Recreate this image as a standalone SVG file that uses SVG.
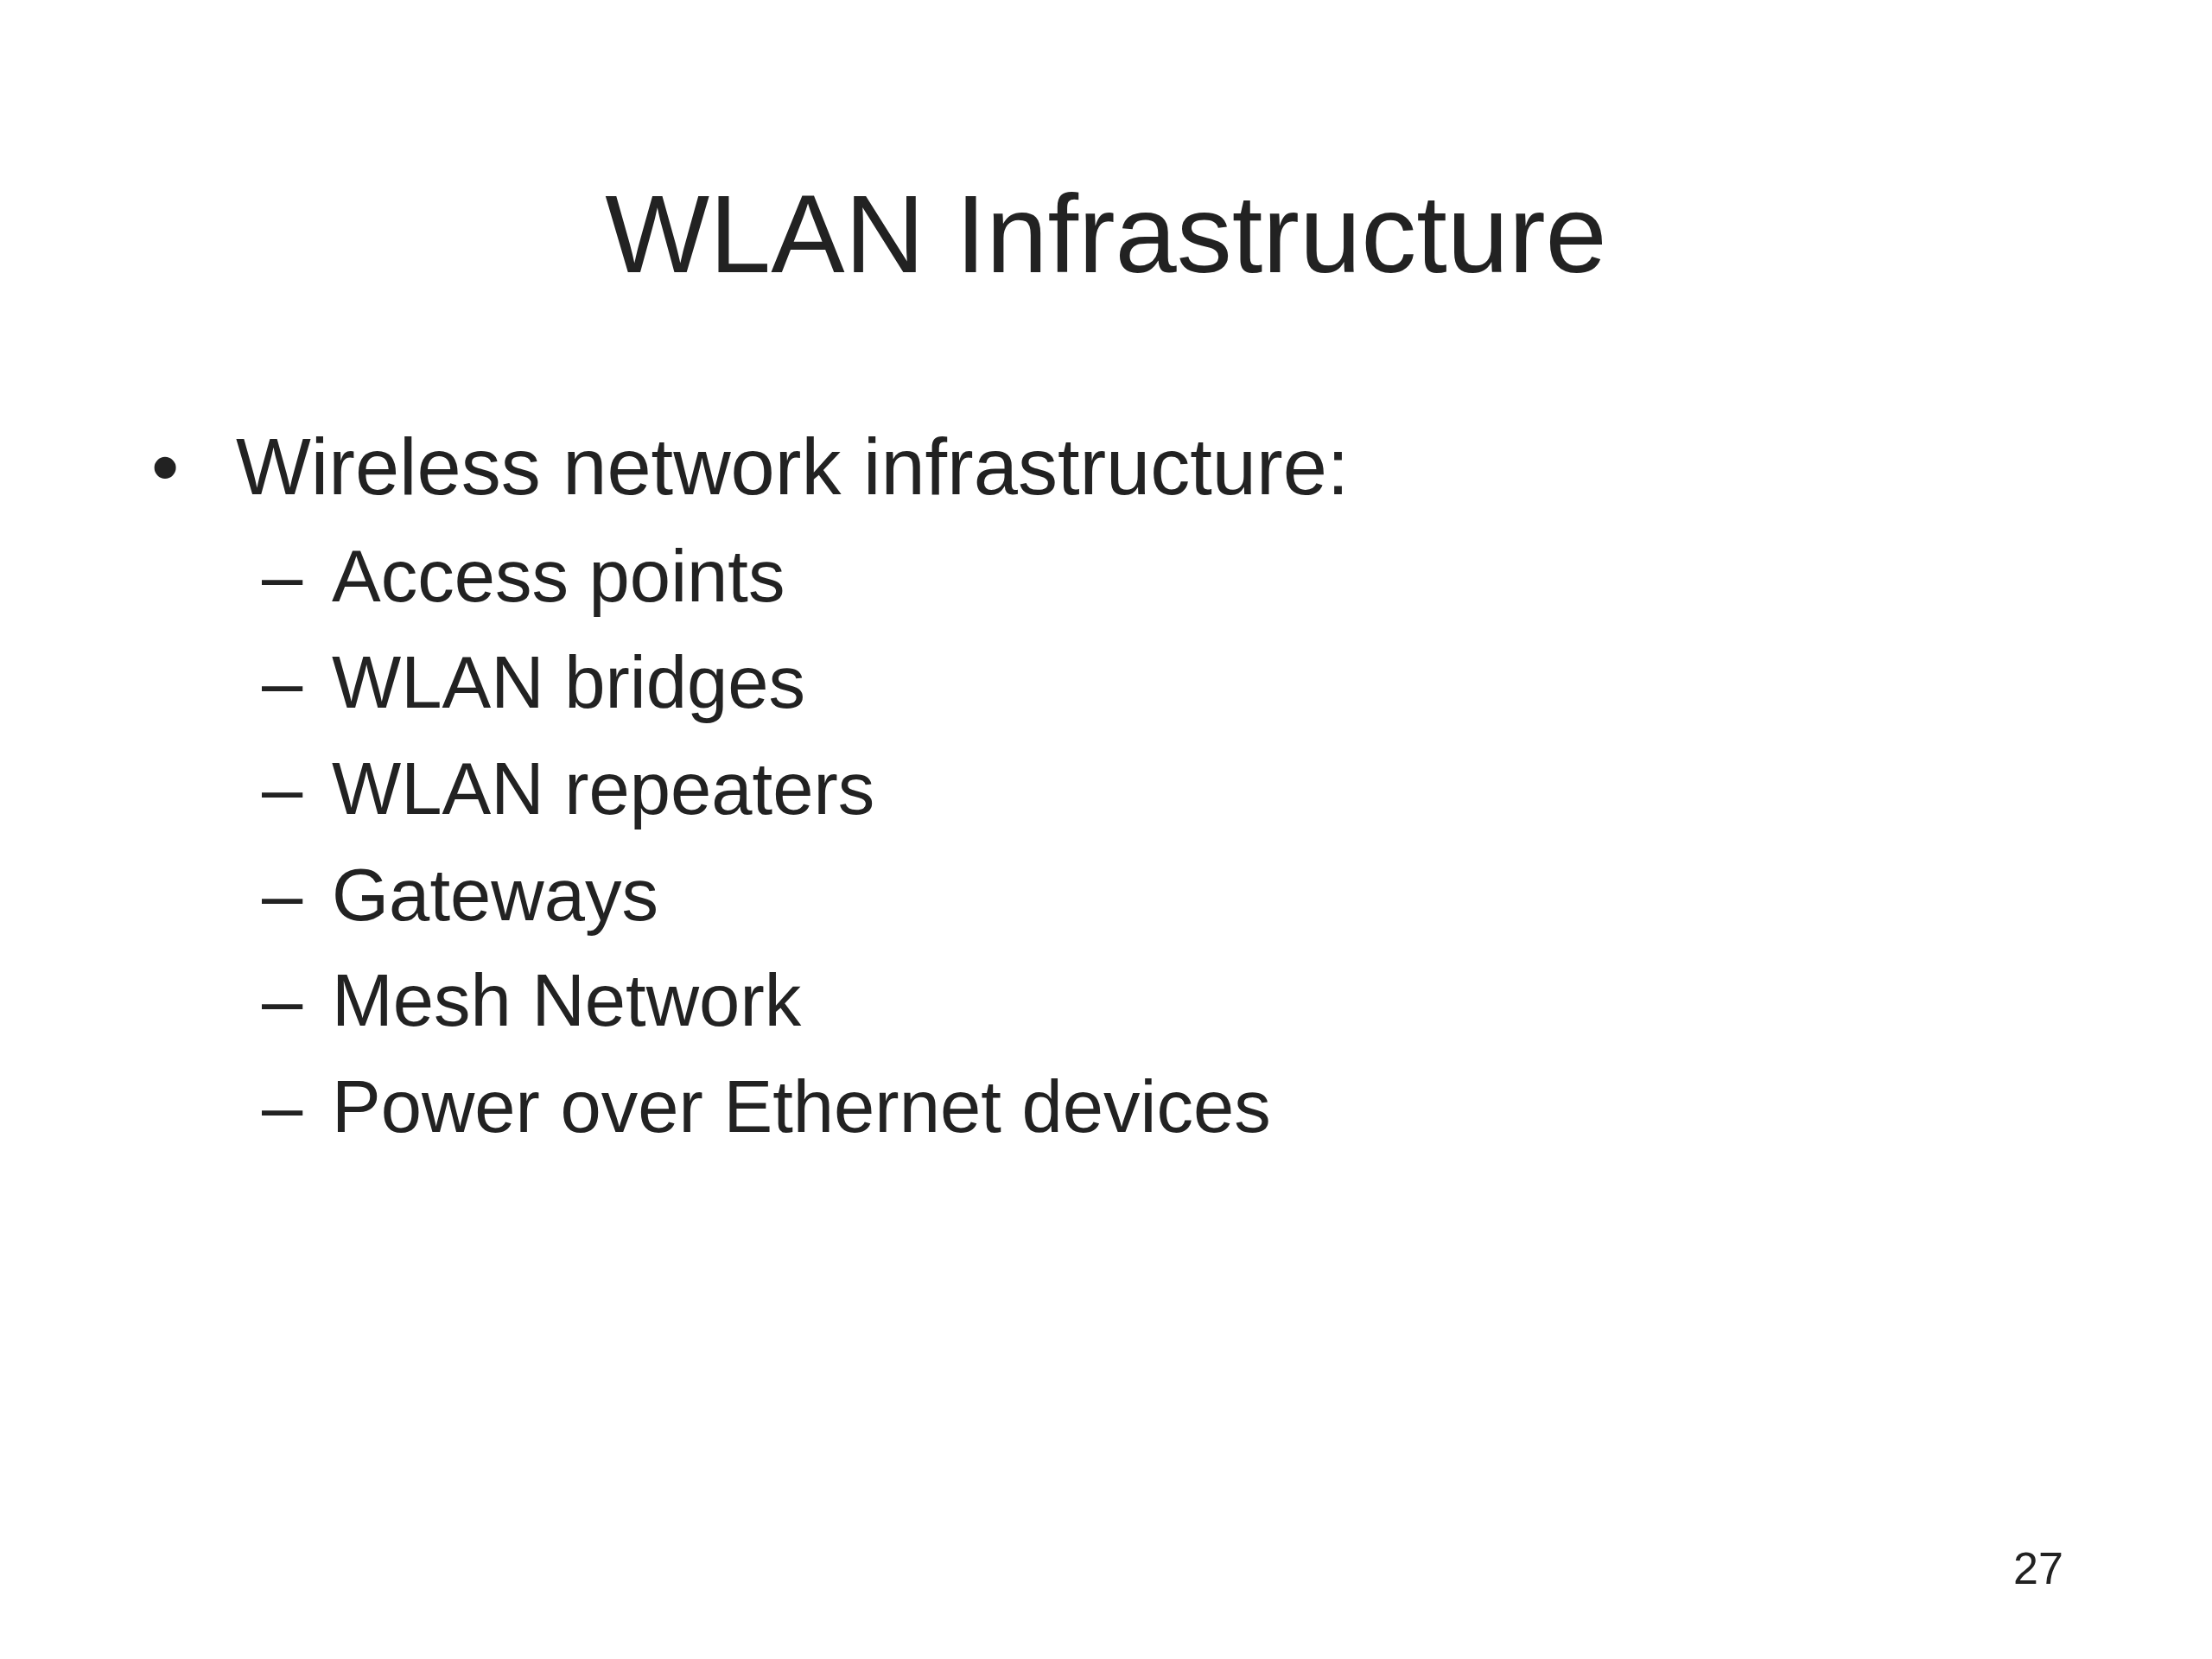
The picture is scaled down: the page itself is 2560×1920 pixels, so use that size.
<svg xmlns="http://www.w3.org/2000/svg" width="2560" height="1920" viewBox="0 0 2560 1920">
<style>
text { font-family: "Liberation Sans", Arial, Helvetica, sans-serif; fill: #222222; }
.title { font-size: 128px; }
.l1 { font-size: 92px; }
.l2 { font-size: 85px; }
.pg { font-size: 52px; }
</style>
<rect x="0" y="0" width="2560" height="1920" fill="#ffffff"/>
<g id="title">
<text class="title" x="1280" y="315" text-anchor="middle">WLAN Infrastructure</text>
</g>
<g id="bullet-main">
<text class="l1" x="175" y="572">•</text>
<text class="l1" x="273" y="572">Wireless network infrastructure:</text>
</g>
<g id="item-access-points">
<text class="l2" x="303" y="696">–</text>
<text class="l2" x="384" y="696">Access points</text>
</g>
<g id="item-wlan-bridges">
<text class="l2" x="303" y="819">–</text>
<text class="l2" x="384" y="819">WLAN bridges</text>
</g>
<g id="item-wlan-repeaters">
<text class="l2" x="303" y="942">–</text>
<text class="l2" x="384" y="942">WLAN repeaters</text>
</g>
<g id="item-gateways">
<text class="l2" x="303" y="1065">–</text>
<text class="l2" x="384" y="1065">Gateways</text>
</g>
<g id="item-mesh-network">
<text class="l2" x="303" y="1187">–</text>
<text class="l2" x="384" y="1187">Mesh Network</text>
</g>
<g id="item-poe">
<text class="l2" x="303" y="1310">–</text>
<text class="l2" x="384" y="1310">Power over Ethernet devices</text>
</g>
<g id="page-number">
<text class="pg" x="2330" y="1833">27</text>
</g>
<g id="connectors"></g>
</svg>
